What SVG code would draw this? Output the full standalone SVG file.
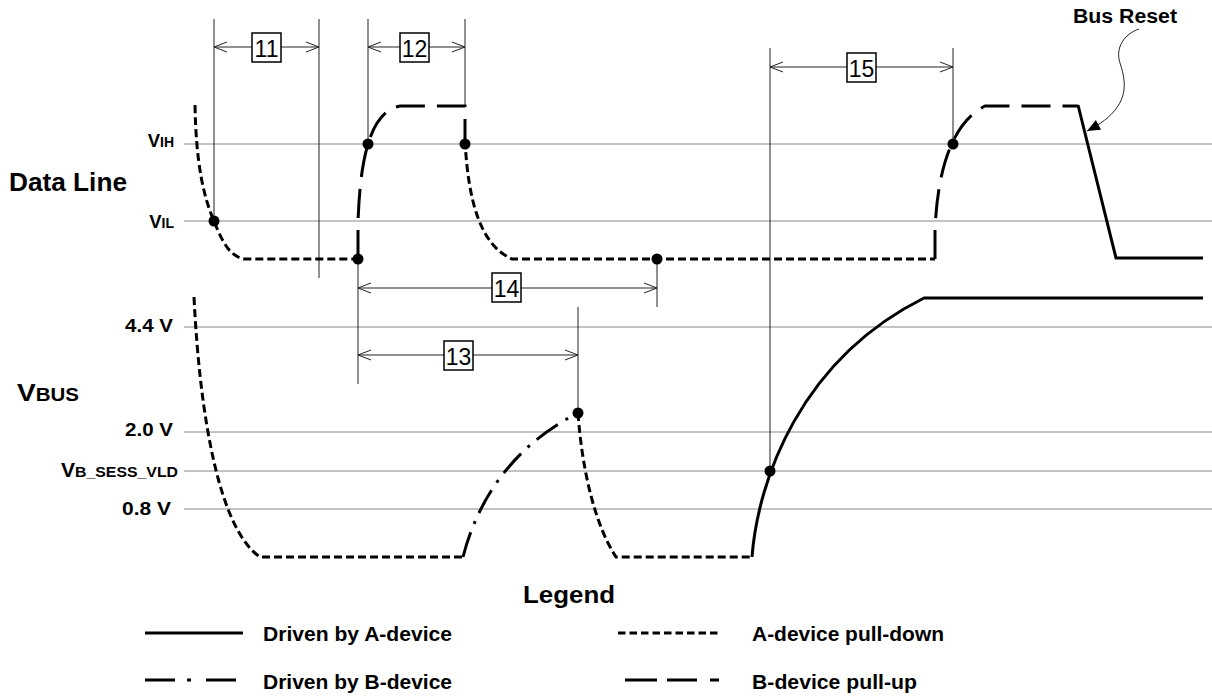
<svg xmlns="http://www.w3.org/2000/svg" width="1212" height="698" viewBox="0 0 1212 698">
<style>
.grid{stroke:#c3c3c3;stroke-width:2.2;fill:none}
.lbl{font-family:"Liberation Sans",Arial,sans-serif;font-weight:bold;fill:#000}
.num{font-family:"Liberation Sans",Arial,sans-serif;font-size:23px;fill:#000;text-anchor:middle}
.ext{stroke:#222;stroke-width:1;fill:none}
.dim{stroke:#222;stroke-width:1;fill:none;marker-start:url(#chev);marker-end:url(#chev)}
.box{fill:#fff;stroke:#000;stroke-width:1.5}
.ad{stroke:#000;stroke-width:3;fill:none}
.pd{stroke:#000;stroke-width:3;fill:none;stroke-dasharray:8 4}
.pu{stroke:#000;stroke-width:3;fill:none;stroke-dasharray:29 12}
.bd{stroke:#000;stroke-width:3;fill:none;stroke-dasharray:26 9 3 9}
.dot{fill:#000}
</style>
<defs>
<marker id="chev" markerUnits="userSpaceOnUse" markerWidth="16" markerHeight="14" viewBox="-15 -7 16 14" refX="0" refY="0" orient="auto-start-reverse">
<path d="M-13,-5 L0,0 L-13,5" fill="none" stroke="#222" stroke-width="1"/>
</marker>
<marker id="tri" markerUnits="userSpaceOnUse" markerWidth="16" markerHeight="14" viewBox="-15 -7 16 14" refX="0" refY="0" orient="auto">
<path d="M-13,-5.5 L0,0 L-13,5.5 z" fill="#000"/>
</marker>
</defs>

<g id="grid">
<line class="grid" x1="184" y1="144" x2="1212" y2="144"/>
<line class="grid" x1="184" y1="221" x2="1212" y2="221"/>
<line class="grid" x1="184" y1="327" x2="1212" y2="327"/>
<line class="grid" x1="184" y1="432" x2="1212" y2="432"/>
<line class="grid" x1="184" y1="471" x2="1212" y2="471"/>
<line class="grid" x1="184" y1="509" x2="1212" y2="509"/>
</g>

<g id="axis-labels">
<text class="lbl" x="9" y="191" font-size="25" textLength="118" lengthAdjust="spacingAndGlyphs">Data Line</text>
<text class="lbl" x="174" y="147" text-anchor="end" font-size="18.5"><tspan>V</tspan><tspan font-size="14">IH</tspan></text>
<text class="lbl" x="174" y="228" text-anchor="end" font-size="18.5"><tspan>V</tspan><tspan font-size="14">IL</tspan></text>
<text class="lbl" x="17" y="401" font-size="24" textLength="62" lengthAdjust="spacingAndGlyphs"><tspan>V</tspan><tspan font-size="17.5">BUS</tspan></text>
<text class="lbl" x="125" y="332" font-size="17.5" textLength="48" lengthAdjust="spacingAndGlyphs">4.4 V</text>
<text class="lbl" x="125" y="436" font-size="17.5" textLength="48" lengthAdjust="spacingAndGlyphs">2.0 V</text>
<text class="lbl" x="61" y="477" font-size="20" textLength="117" lengthAdjust="spacingAndGlyphs"><tspan>V</tspan><tspan font-size="15">B_SESS_VLD</tspan></text>
<text class="lbl" x="122" y="515" font-size="17.5" textLength="49" lengthAdjust="spacingAndGlyphs">0.8 V</text>
<text class="lbl" x="1073" y="23" font-size="20" textLength="104" lengthAdjust="spacingAndGlyphs">Bus Reset</text>
</g>

<g id="connectors">
<line class="ext" x1="214" y1="19" x2="214" y2="221"/>
<line class="ext" x1="319" y1="19" x2="319" y2="278"/>
<line class="ext" x1="368" y1="19" x2="368" y2="144"/>
<line class="ext" x1="465" y1="19" x2="465" y2="105"/>
<line class="ext" x1="358" y1="259" x2="358" y2="384"/>
<line class="ext" x1="657" y1="259" x2="657" y2="307"/>
<line class="ext" x1="578" y1="307" x2="578" y2="413"/>
<line class="ext" x1="770" y1="48" x2="770" y2="471"/>
<line class="ext" x1="953" y1="48" x2="953" y2="144"/>
<line class="dim" x1="214" y1="47" x2="319" y2="47"/>
<line class="dim" x1="368" y1="47" x2="465" y2="47"/>
<line class="dim" x1="358" y1="288" x2="657" y2="288"/>
<line class="dim" x1="358" y1="355" x2="578" y2="355"/>
<line class="dim" x1="770" y1="67" x2="953" y2="67"/>
<path class="ext" d="M1139,29 C1124,34 1115,48 1120,63 C1125,78 1127,92 1118,106 C1110,118 1100,124 1087,131" marker-end="url(#tri)"/>
</g>

<g id="t11"><rect class="box" x="252" y="33" width="29" height="29"/><text class="num" x="266.5" y="57">11</text></g>
<g id="t12"><rect class="box" x="400" y="33" width="29" height="29"/><text class="num" x="414.5" y="57">12</text></g>
<g id="t14"><rect class="box" x="492" y="273" width="29" height="29"/><text class="num" x="506.5" y="297">14</text></g>
<g id="t13"><rect class="box" x="444" y="341" width="29" height="29"/><text class="num" x="458.5" y="365">13</text></g>
<g id="t15"><rect class="box" x="847" y="53" width="29" height="29"/><text class="num" x="861.5" y="77">15</text></g>

<g id="data-line">
<path class="pd" d="M195,105 C196,165 204,198 214,221 C220,236 228,257 245,259 H358"/>
<path class="pu" d="M358,259 V222 C360,165 368,112 400,106 H465 V140"/>
<path class="pd" d="M465,140 C468,200 480,245 512,259 H935"/>
<path class="pu" d="M935,259 V230 C937,180 948,125 985,106 H1078"/>
<path class="ad" d="M1078,105 L1116,258 H1203"/>
</g>

<g id="vbus">
<path class="pd" d="M194,297 C200,420 220,530 260,557 H463"/>
<path class="bd" d="M463,557 C475,510 505,450 578,413"/>
<path class="pd" d="M578,413 C582,470 595,525 616,557 H752"/>
<path class="ad" d="M752,557 C758,480 800,360 924,298 H1203"/>
</g>

<g id="points">
<circle class="dot" cx="214" cy="221" r="5.5"/>
<circle class="dot" cx="368" cy="144" r="5.5"/>
<circle class="dot" cx="465" cy="144" r="5.5"/>
<circle class="dot" cx="358" cy="259" r="5.5"/>
<circle class="dot" cx="657" cy="259" r="5.5"/>
<circle class="dot" cx="953" cy="144" r="5.5"/>
<circle class="dot" cx="578" cy="413" r="5.5"/>
<circle class="dot" cx="770" cy="471" r="5.5"/>
</g>

<g id="legend">
<text class="lbl" x="523" y="603" font-size="24" textLength="92" lengthAdjust="spacingAndGlyphs">Legend</text>
<line class="ad" x1="145" y1="633" x2="243" y2="633" style="stroke-width:2.8"/>
<text class="lbl" x="263" y="641" font-size="20" textLength="189" lengthAdjust="spacingAndGlyphs">Driven by A-device</text>
<line class="bd" x1="145" y1="680" x2="243" y2="680" style="stroke-dasharray:30 12 4 15;stroke-width:2.8"/>
<text class="lbl" x="263" y="689" font-size="20" textLength="189" lengthAdjust="spacingAndGlyphs">Driven by B-device</text>
<line class="pd" x1="618" y1="633" x2="718" y2="633" style="stroke-dasharray:7.5 4;stroke-width:2.8"/>
<text class="lbl" x="752" y="641" font-size="20" textLength="192" lengthAdjust="spacingAndGlyphs">A-device pull-down</text>
<line class="pu" x1="625" y1="680" x2="719" y2="680" style="stroke-dasharray:32 10 30 13;stroke-width:2.8"/>
<text class="lbl" x="752" y="689" font-size="20" textLength="165" lengthAdjust="spacingAndGlyphs">B-device pull-up</text>
</g>
</svg>
